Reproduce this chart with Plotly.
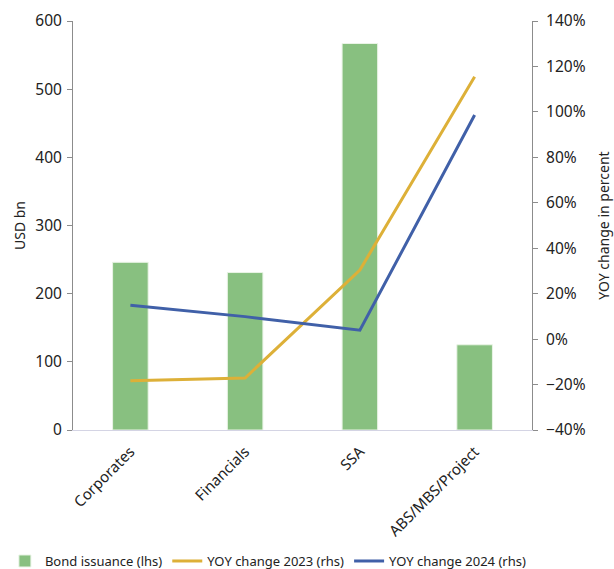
import plotly.graph_objects as go

categories = ["Corporates", "Financials", "SSA", "ABS/MBS/Project"]
bond_issuance = [246, 231, 567, 125]          # USD bn (lhs)
yoy_2023 = [-18.3, -17.1, 30.4, 115.5]         # percent (rhs)
yoy_2024 = [14.9, 9.9, 3.9, 98.6]              # percent (rhs)

FONT = "Noto Sans"
TXT = "#222222"
W, H = 614, 569
PLOT_LEFT, PLOT_RIGHT = 73, 532

fig = go.Figure()
fig.add_trace(go.Bar(
    x=categories, y=bond_issuance, name="Bond issuance (lhs)",
    marker=dict(color="#88C080", line=dict(color="#EAF4E6", width=1)),
    yaxis="y",
))
fig.add_trace(go.Scatter(
    x=categories, y=yoy_2023, name="YOY change 2023 (rhs)", mode="lines",
    line=dict(color="#DDB038", width=3), yaxis="y2",
))
fig.add_trace(go.Scatter(
    x=categories, y=yoy_2024, name="YOY change 2024 (rhs)", mode="lines",
    line=dict(color="#4060A8", width=3), yaxis="y2",
))

fig.update_layout(
    width=W, height=H,
    margin=dict(l=0, r=0, t=21, b=139, autoexpand=False),
    paper_bgcolor="white", plot_bgcolor="white",
    font=dict(family=FONT, size=13, color=TXT),
    bargap=0.69,
    showlegend=True,
    legend=dict(orientation="h", x=0.008, xanchor="left",
                yref="container", y=0.014, yanchor="middle",
                font=dict(size=13, color=TXT),
                itemwidth=30, tracegroupgap=0),
    xaxis=dict(
        domain=[PLOT_LEFT / W, PLOT_RIGHT / W],
        showline=True, linecolor="#D4D4E4", linewidth=1, ticks="",
        tickangle=-45, tickfont=dict(size=15, color=TXT), showgrid=False,
        ticklabelstandoff=6, automargin=False,
    ),
    yaxis=dict(
        range=[0, 600], dtick=100, showgrid=False, zeroline=False,
        showline=True, linecolor="#8C8C8C", linewidth=1,
        ticks="outside", ticklen=5, tickcolor="#8C8C8C",
        ticklabelstandoff=2, automargin=False,
        title=dict(text="USD bn", font=dict(size=14, color=TXT), standoff=6),
        tickfont=dict(size=15.5, color=TXT),
    ),
    yaxis2=dict(
        range=[-40, 140], dtick=20, overlaying="y", side="right",
        anchor="x",
        showgrid=False, zeroline=False, ticksuffix="%",
        showline=True, linecolor="#8C8C8C", linewidth=1,
        ticks="outside", ticklen=5, tickcolor="#8C8C8C",
        ticklabelstandoff=5, automargin=False,
        title=dict(text="YOY change in percent", font=dict(size=14, color=TXT), standoff=14),
        tickfont=dict(size=15.5, color=TXT),
    ),
)

fig.write_html("out.html")
